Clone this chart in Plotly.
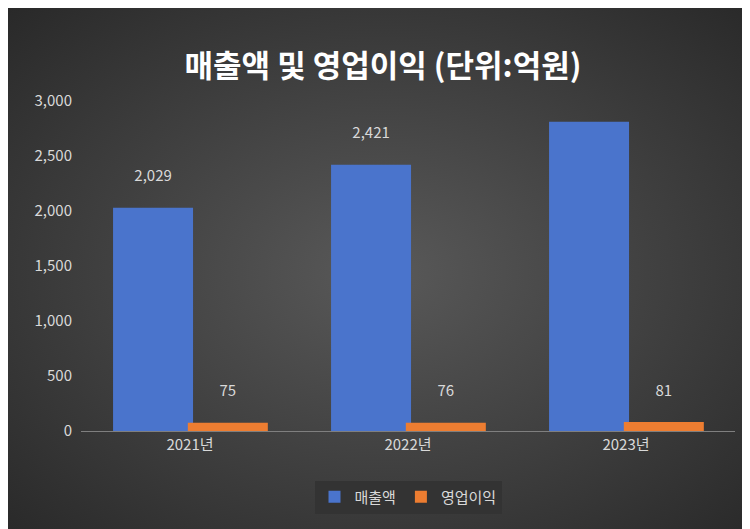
import plotly.graph_objects as go
import base64

categories = ["2021년", "2022년", "2023년"]
sales = [2029, 2421, 2812]
profit = [75, 76, 81]
tick_vals = [0, 500, 1000, 1500, 2000, 2500, 3000]

svg = '''<svg xmlns="http://www.w3.org/2000/svg" width="750" height="529"><defs><radialGradient id="g" cx="50%" cy="50%" r="75%"><stop offset="0%" stop-color="#595959"/><stop offset="100%" stop-color="#262626"/></radialGradient></defs><rect width="750" height="529" fill="url(#g)"/></svg>'''
src = "data:image/svg+xml;base64," + base64.b64encode(svg.encode()).decode()

L, R, T, B = 73, 23, 93, 106
W, H = 750, 529
pw, ph = W - L - R, H - T - B

font = "Noto Sans CJK KR"
fig = go.Figure()
fig.add_bar(x=categories, y=sales, name="매출액", marker=dict(color="#4a74cc", line_width=0),
            width=0.367, offset=-0.353, texttemplate="%{y:,}<br> ",
            textposition="outside", textfont=dict(color="#d9d9d9", size=15))
fig.add_bar(x=categories, y=profit, name="영업이익", marker=dict(color="#ed7d31", line_width=0),
            width=0.367, offset=-0.01, texttemplate="%{y:,}<br> ",
            textposition="outside", textfont=dict(color="#d9d9d9", size=15))
fig.update_layout(
    width=W, height=H, barmode="overlay",
    paper_bgcolor="#333333", plot_bgcolor="rgba(0,0,0,0)",
    images=[dict(source=src, xref="paper", yref="paper", x=-L / pw, y=1 + T / ph,
                 sizex=W / pw, sizey=H / ph,
                 xanchor="left", yanchor="top", sizing="stretch", layer="below")],
    margin=dict(l=L, r=R, t=T, b=B),
    title=dict(text="<b>매출액 및 영업이익 (단위:억원)</b>", x=0.5, xanchor="center", y=0.91,
               font=dict(family=font, size=31, color="white")),
    font=dict(family=font, color="#d9d9d9", size=15),
    xaxis=dict(showline=True, linecolor="#7f7f7f", linewidth=1, tickfont=dict(size=15)),
    yaxis=dict(range=[0, 3000], tickvals=tick_vals, tickformat=",", showgrid=False,
               zeroline=False, tickfont=dict(size=15), ticklabelstandoff=8),
    legend=dict(orientation="h", x=0.5, xanchor="center", y=-0.15, yanchor="top",
                font=dict(size=15)),
)
fig.write_html("out.html")
